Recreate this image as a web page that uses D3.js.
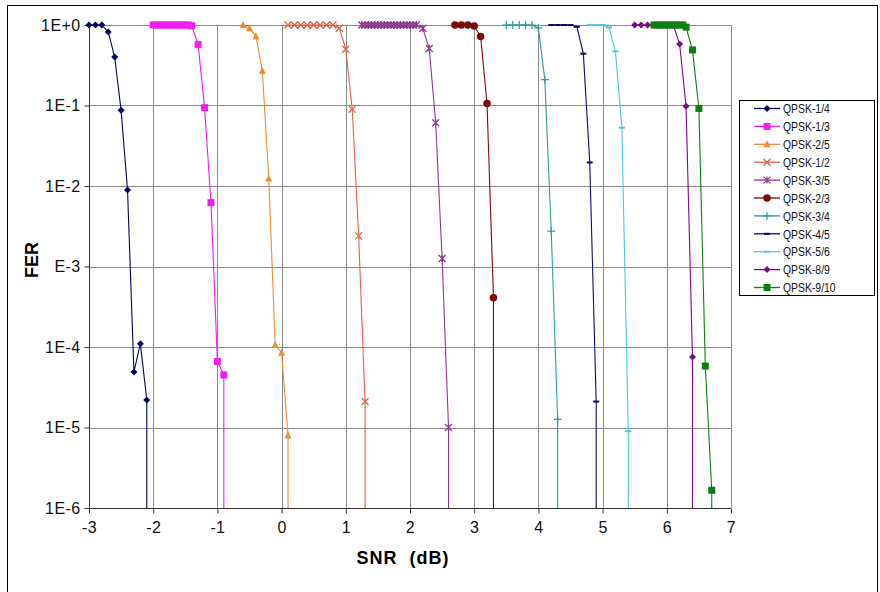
<!DOCTYPE html>
<html>
<head>
<meta charset="utf-8">
<script src="https://cdn.jsdelivr.net/npm/d3@7"></script>
<style>
  html, body { margin: 0; padding: 0; background: #fff; }
  svg { display: block; font-family: "Liberation Sans", Arial, sans-serif; }
</style>
</head>
<body>
<svg id="chart" width="880" height="592"></svg>
<script>
// ---------- data ----------
const seriesNames = ["QPSK-1/4","QPSK-1/3","QPSK-2/5","QPSK-1/2","QPSK-3/5","QPSK-2/3","QPSK-3/4","QPSK-4/5","QPSK-5/6","QPSK-8/9","QPSK-9/10"];

const snr_1_4 = [-3.0,-2.9,-2.8,-2.7,-2.6,-2.5,-2.4,-2.3,-2.2,-2.1];
const fer_1_4 = [1,1,1,0.82,0.40,0.087,0.0089,4.9e-5,1.1e-4,2.2e-5];

const snr_1_3 = [-2.0,-1.95,-1.9,-1.85,-1.8,-1.75,-1.7,-1.65,-1.6,-1.55,-1.5,-1.45,-1.4,-1.3,-1.2,-1.1,-1.0,-0.9];
const fer_1_3 = [1,1,1,1,1,1,1,1,1,1,1,1,0.98,0.57,0.094,0.0062,6.6e-5,4.5e-5];

const snr_2_5 = [-0.6,-0.5,-0.4,-0.3,-0.2,-0.1,0.0,0.1];
const fer_2_5 = [1,0.91,0.72,0.27,0.0124,1.06e-4,8.5e-5,8.0e-6];

const snr_1_2 = [0.1,0.2,0.3,0.4,0.5,0.6,0.7,0.8,0.9,1.0,1.1,1.2,1.3];
const fer_1_2 = [1,1,1,1,1,1,1,1,0.91,0.50,0.090,0.0024,2.1e-5];

const snr_3_5 = [1.25,1.3,1.35,1.4,1.45,1.5,1.55,1.6,1.65,1.7,1.75,1.8,1.85,1.9,1.95,2.0,2.05,2.1,2.2,2.3,2.4,2.5,2.6];
const fer_3_5 = [1,1,1,1,1,1,1,1,1,1,1,1,1,1,1,1,1,1,0.91,0.51,0.061,0.00126,1.0e-5];

const snr_2_3 = [2.7,2.8,2.9,3.0,3.1,3.2,3.3];
const fer_2_3 = [1,1,1,0.97,0.72,0.106,4.1e-4];

const snr_3_4 = [3.5,3.6,3.7,3.8,3.9,4.0,4.1,4.2,4.3];
const fer_3_4 = [1,1,1,1,1,0.92,0.21,0.00275,1.26e-5];

const snr_4_5 = [4.2,4.3,4.4,4.5,4.6,4.7,4.8,4.9];
const fer_4_5 = [1,1,1,1,0.95,0.44,0.0196,2.1e-5];

const snr_5_6 = [4.8,4.9,5.0,5.1,5.2,5.3,5.4];
const fer_5_6 = [1,1,1,0.93,0.47,0.053,9.0e-6];

const snr_8_9 = [5.5,5.6,5.7,5.8,5.9,6.0,6.1,6.2,6.3,6.4];
const fer_8_9 = [1,1,1,1,1,1,1,0.58,0.098,7.5e-5];

const snr_9_10 = [5.8,5.85,5.9,5.95,6.0,6.05,6.1,6.15,6.2,6.25,6.3,6.4,6.5,6.6,6.7];
const fer_9_10 = [1,1,1,1,1,1,1,1,1,1,0.94,0.49,0.092,5.8e-5,1.66e-6];

const xTicks = [-3,-2,-1,0,1,2,3,4,5,6,7];
const yTicks = [1e-6,1e-5,1e-4,1e-3,1e-2,1e-1,1];
const yTickLabels = ["1E-6","1E-5","1E-4","E-3","1E-2","1E-1","1E+0"];
const xTitle = "SNR  (dB)";
const yTitle = "FER";

// ---------- styles ----------
const colors  = ["#00045e","#f01cf0","#ee8c32","#e0604c","#8d3a8f","#7d0a0a","#2f9a9a","#0a0a70","#4cc8e4","#7a0a86","#0e7d14"];
const markers = ["diamond","square","triangle","x","asterisk","circle","plus","dash","dash","diamond","square"];

const snrs = [snr_1_4,snr_1_3,snr_2_5,snr_1_2,snr_3_5,snr_2_3,snr_3_4,snr_4_5,snr_5_6,snr_8_9,snr_9_10];
const fers = [fer_1_4,fer_1_3,fer_2_5,fer_1_2,fer_3_5,fer_2_3,fer_3_4,fer_4_5,fer_5_6,fer_8_9,fer_9_10];
const series = seriesNames.map((n,i)=>({
  name:n, color:colors[i], marker:markers[i],
  pts: snrs[i].map((s,j)=>({x:s, y:fers[i][j]}))
}));

// ---------- layout ----------
const svg = d3.select("#chart");
const L = 89, R = 731, T = 25, B = 508;
const x = d3.scaleLinear().domain([-3,7]).range([L,R]);
const y = d3.scaleLog().domain([1e-6,1]).range([B,T]);

// outer frame
svg.append("rect").attr("x",7.5).attr("y",5.5).attr("width",870).attr("height",600)
  .attr("fill","#fff").attr("stroke","#000").attr("stroke-width",1);

// gridlines
const grid = svg.append("g");
grid.selectAll("line.v").data(xTicks).join("line")
  .attr("x1",d=>Math.round(x(d))+0.5).attr("x2",d=>Math.round(x(d))+0.5)
  .attr("y1",T).attr("y2",B).attr("stroke","#8a8a8a").attr("stroke-width",1);
grid.selectAll("line.h").data(yTicks).join("line")
  .attr("y1",d=>Math.round(y(d))+0.5).attr("y2",d=>Math.round(y(d))+0.5)
  .attr("x1",L).attr("x2",R).attr("stroke","#8a8a8a").attr("stroke-width",1);

// axes
const yAxis = svg.append("g").attr("transform",`translate(${L+0.5},0)`)
  .call(d3.axisLeft(y).tickValues(yTicks).tickFormat((d,i)=>yTickLabels[i]).tickSize(5).tickPadding(4));
const xAxis = svg.append("g").attr("transform",`translate(0,${B+0.5})`)
  .call(d3.axisBottom(x).tickValues(xTicks).tickFormat(d3.format("d")).tickSize(5).tickPadding(8));
[yAxis,xAxis].forEach(a=>{
  a.select(".domain").attr("stroke","#333");
  a.selectAll(".tick line").attr("stroke","#333");
  a.selectAll("text").attr("font-size",16).attr("fill","#111").attr("letter-spacing",0.4)
    .attr("font-family","'Liberation Sans', Arial, sans-serif");
});
xAxis.selectAll(".tick text").text(d => d < 0 ? "-" + Math.abs(d) : d);
xAxis.select(".domain").attr("d",`M${L},0H${R}`);
yAxis.select(".domain").attr("d",`M0,${B}V${T}`);

// titles
svg.append("text").attr("x",403).attr("y",564).attr("text-anchor","middle")
  .attr("font-size",18).attr("font-weight","bold").attr("letter-spacing",1)
  .style("white-space","pre").attr("xml:space","preserve").text(xTitle);
svg.append("text").attr("transform","translate(38,260) rotate(-90)").attr("text-anchor","middle")
  .attr("font-size",18).attr("font-weight","bold").text(yTitle);

// marker drawing
function drawMarker(g, type, color, size){
  const s = size/2;
  switch(type){
    case "diamond": g.append("path").attr("d",`M0,${-s}L${s},0L0,${s}L${-s},0Z`).attr("fill",color); break;
    case "square": g.append("rect").attr("x",-s).attr("y",-s).attr("width",size).attr("height",size).attr("fill",color); break;
    case "triangle": g.append("path").attr("d",`M0,${-s-0.5}L${s},${s-0.5}L${-s},${s-0.5}Z`).attr("fill",color); break;
    case "circle": g.append("circle").attr("r",s).attr("fill",color); break;
    case "x": g.append("path").attr("d",`M${-s},${-s}L${s},${s}M${-s},${s}L${s},${-s}`).attr("stroke",color).attr("stroke-width",1.3).attr("fill","none"); break;
    case "asterisk": g.append("path").attr("d",`M${-s},${-s}L${s},${s}M${-s},${s}L${s},${-s}M0,${-s}V${s}`).attr("stroke",color).attr("stroke-width",1.3).attr("fill","none"); break;
    case "plus": g.append("path").attr("d",`M${-s},0H${s}M0,${-s}V${s}`).attr("stroke",color).attr("stroke-width",1.2).attr("fill","none"); break;
    case "dash": g.append("path").attr("d",`M${-s},0H${s}`).attr("stroke",color).attr("stroke-width",2).attr("fill","none"); break;
  }
}
const markerSize = {diamond:7, square:7, triangle:7, circle:7.5, x:7, asterisk:7, plus:8, dash:6};

// clip
svg.append("clipPath").attr("id","plotclip").append("rect")
  .attr("x",L-6).attr("y",T-6).attr("width",R-L+12).attr("height",B-T+6);

const plot = svg.append("g").attr("clip-path","url(#plotclip)");
const line = d3.line().x(d=>x(d.x)).y(d=>y(d.y));
series.forEach(s=>{
  const last = s.pts[s.pts.length-1];
  const pathPts = s.pts.concat([{x:last.x, y:y.domain()[0]}]);
  plot.append("path").datum(pathPts).attr("d",line)
    .attr("fill","none").attr("stroke",s.color).attr("stroke-width",1.1);
});
series.forEach(s=>{
  const g = plot.append("g");
  s.pts.forEach(p=>{
    const mg = g.append("g").attr("transform",`translate(${x(p.x)},${y(p.y)})`);
    drawMarker(mg, s.marker, s.color, markerSize[s.marker]);
  });
});

// legend
const lg = svg.append("g");
lg.append("rect").attr("x",739.5).attr("y",100.5).attr("width",135).attr("height",195)
  .attr("fill","#fff").attr("stroke","#000").attr("stroke-width",1);
series.forEach((s,i)=>{
  const cy = 108.5 + i*17.9;
  lg.append("line").attr("x1",754).attr("x2",780).attr("y1",cy).attr("y2",cy)
    .attr("stroke",s.color).attr("stroke-width",1.3);
  const mg = lg.append("g").attr("transform",`translate(767,${cy})`);
  drawMarker(mg, s.marker, s.color, markerSize[s.marker]);
  lg.append("text").attr("transform",`translate(783,${cy+4.7}) scale(0.8,1)`)
    .attr("font-size",13).attr("fill","#111").text(s.name);
});
</script>
</body>
</html>
